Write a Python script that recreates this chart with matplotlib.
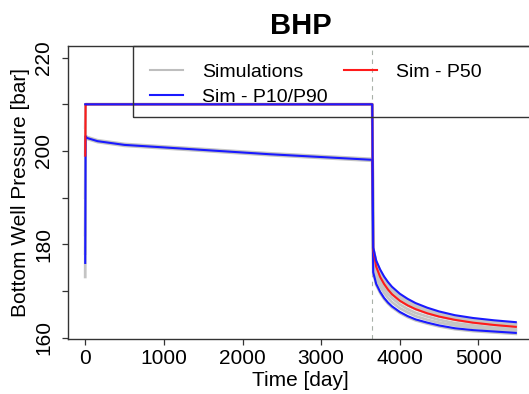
import matplotlib.pyplot as plt
from matplotlib.patches import Rectangle

plt.rcParams['font.family'] = ['Liberation Sans', 'DejaVu Sans']

# time grid shared by all curves (days)
t_days = [0, 5, 20, 157, 500, 1058, 1700, 2345, 3000, 3650,
          3662, 3700, 3750, 3800, 3850, 3900, 4000, 4100, 4200, 4350,
          4500, 4700, 4930, 5200, 5475]

# percentiles (bar)
p90 = [210, 210, 210, 210, 210, 210, 210, 210, 210, 210,
       179.3, 176.5, 174.6, 173.1, 171.9, 170.9, 169.4, 168.3, 167.4, 166.4,
       165.6, 164.8, 164.2, 163.7, 163.3]
p50 = [199, 210, 210, 210, 210, 210, 210, 210, 210, 210,
       179.0, 175.2, 173.0, 171.5, 170.3, 169.3, 167.9, 166.9, 166.1, 165.2,
       164.5, 163.8, 163.2, 162.7, 162.3]
p10 = [176, 203.2, 202.8, 202.1, 201.3, 200.7, 200.0, 199.3, 198.7, 198.1,
       174.0, 171.5, 169.8, 168.5, 167.5, 166.7, 165.5, 164.6, 163.9, 163.2,
       162.6, 162.0, 161.6, 161.3, 161.0]

# a few individual simulation runs
sims = [
    [205, 210, 210, 210, 210, 210, 210, 210, 210, 210,
     179.2, 176.2, 174.3, 172.8, 171.6, 170.6, 169.1, 168.0, 167.1, 166.1,
     165.3, 164.5, 163.9, 163.4, 163.0],
    [199, 210, 210, 210, 210, 210, 210, 210, 210, 210,
     179.1, 175.8, 173.7, 172.2, 171.0, 170.0, 168.5, 167.5, 166.6, 165.7,
     164.9, 164.2, 163.6, 163.1, 162.7],
    [190, 210, 210, 210, 210, 210, 210, 210, 210, 210,
     179.0, 175.2, 173.0, 171.5, 170.3, 169.3, 167.9, 166.9, 166.1, 165.2,
     164.5, 163.8, 163.2, 162.7, 162.3],
    [182, 210, 210, 210, 210, 210, 210, 210, 210, 210,
     177.5, 174.0, 172.0, 170.5, 169.4, 168.5, 167.1, 166.1, 165.3, 164.5,
     163.8, 163.1, 162.6, 162.1, 161.8],
    [178, 203.4, 203.0, 202.3, 201.5, 200.9, 200.2, 199.5, 198.9, 198.3,
     176.0, 172.8, 171.0, 169.6, 168.5, 167.6, 166.3, 165.4, 164.6, 163.8,
     163.2, 162.6, 162.1, 161.7, 161.4],
    [173, 203.0, 202.6, 201.9, 201.1, 200.5, 199.8, 199.1, 198.5, 197.9,
     174.0, 171.3, 169.6, 168.3, 167.3, 166.5, 165.3, 164.4, 163.7, 163.0,
     162.4, 161.8, 161.4, 161.1, 160.8],
]

x_ticks = [0, 1000, 2000, 3000, 4000, 5000]
y_ticks = [160, 170, 180, 190, 200, 210, 220]
y_tick_labels = ['160', '', '180', '', '200', '', '220']
shut_in_day = 3650

fig = plt.figure(figsize=(5.29, 3.94), dpi=100)
ax = fig.add_axes([68 / 529, 55.5 / 394, 465 / 529, 292.5 / 394])

for s in sims:
    ax.plot(t_days, s, color='#c4c4c4', lw=2.0, zorder=2)
ax.plot(t_days, p10, color='#1a1aff', lw=1.5, zorder=3)
ax.plot(t_days, p50, color='#ff1a1a', lw=1.5, zorder=4)
ax.plot(t_days, p90, color='#1a1aff', lw=1.5, zorder=5)
ax.axvline(shut_in_day, color='#a8b0a8', lw=0.8, ls=(0, (4, 4)), zorder=1)

ax.set_xlim(-219, 5694)
ax.set_ylim(159.8, 222.5)
ax.set_xticks(x_ticks)
ax.set_yticks(y_ticks)
ax.set_yticklabels(y_tick_labels, rotation=90, va='center')
ax.tick_params(axis='both', labelsize=15, length=4.5, width=0.9, color='#333333')
ax.tick_params(axis='x', pad=3)
ax.tick_params(axis='y', pad=6)
for side in ['left', 'bottom', 'top']:
    ax.spines[side].set_color('#333333')
    ax.spines[side].set_linewidth(1.0)
ax.spines['right'].set_visible(False)

ax.set_xlabel('Time [day]', fontsize=15, labelpad=2)
ax.set_ylabel('Bottom Well Pressure [bar]', fontsize=15, labelpad=3)
ax.set_title('BHP', fontsize=21, fontweight='bold', pad=9)

# legend (no fill, box drawn separately so it runs off the right edge)
h_sim, = ax.plot([], [], color='#bebebe', lw=1.5)
h_p1090, = ax.plot([], [], color='#1a1aff', lw=1.5)
h_p50, = ax.plot([], [], color='#ff1a1a', lw=1.5)
ax.legend([h_sim, h_p1090, h_p50], ['Simulations', 'Sim - P10/P90', 'Sim - P50'],
          ncol=2, loc='upper left', bbox_to_anchor=(82 / 465, 1 - 17 / 292.5),
          frameon=False, fontsize=14, borderpad=0, borderaxespad=0,
          handlelength=1.7, handletextpad=1.0, columnspacing=0.8,
          labelspacing=0.38)
ax.add_patch(Rectangle((65 / 465, 1 - 71 / 292.5), 1.0, 71 / 292.5,
                       transform=ax.transAxes, fill=False, edgecolor='#333333',
                       lw=1.0, clip_on=False, zorder=6))

fig.savefig('out.png', dpi=100)
